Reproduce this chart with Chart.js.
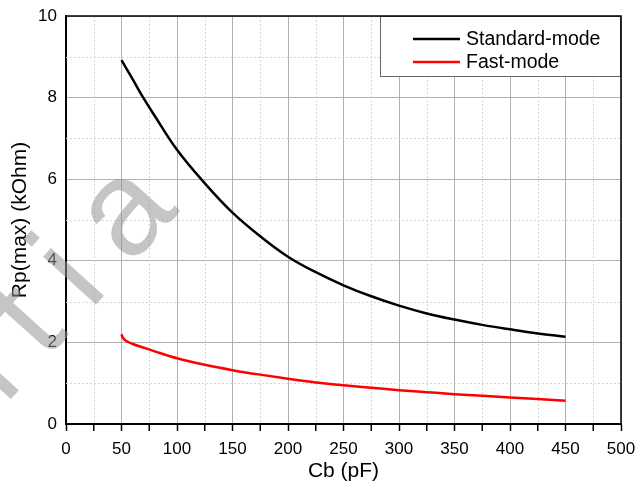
<!DOCTYPE html>
<html>
<head>
<meta charset="utf-8">
<script src="https://cdn.jsdelivr.net/npm/chart.js@4.4.0/dist/chart.umd.min.js"></script>
<style>
    html, body { margin: 0; padding: 0; background: #ffffff; }
</style>
</head>
<body>
<canvas id="myChart" width="638" height="497"></canvas>
<script>
// Standard-mode curve
var cbStandard = [50, 60, 70, 80, 100, 125, 150, 175, 200, 225, 250, 275, 300, 325, 350, 375, 400, 425, 450];
var rpStandard = [8.92, 8.45, 7.98, 7.55, 6.72, 5.90, 5.18, 4.60, 4.10, 3.72, 3.40, 3.13, 2.90, 2.71, 2.56, 2.43, 2.32, 2.22, 2.14];

// Fast-mode curve
var cbFast = [50, 51, 53, 56, 60, 70, 80, 100, 125, 150, 175, 200, 225, 250, 275, 300, 325, 350, 375, 400, 425, 450];
var rpFast = [2.20, 2.13, 2.06, 2.01, 1.96, 1.87, 1.78, 1.61, 1.45, 1.32, 1.21, 1.11, 1.02, 0.95, 0.89, 0.83, 0.78, 0.73, 0.69, 0.65, 0.61, 0.57];

var seriesNames = ["Standard-mode", "Fast-mode"];
var xMinorTicks = [25, 75, 125, 175, 225, 275, 325, 375, 425, 475];
var yMinorTicks = [1, 3, 5, 7, 9];
var watermarkText = "Confidential";

let toPoints = (xs, ys) => xs.map((x, i) => ({ x: x, y: ys[i] }));

let fontName = "'Liberation Sans', Arial, sans-serif";

// dotted minor grid + minor tick marks
let minorGrid = {
    id: "minorGrid",
    beforeDatasetsDraw(chart) {
        var ctx = chart.ctx;
        var area = chart.chartArea;
        var xs = chart.scales.x;
        var ys = chart.scales.y;
        ctx.save();
        ctx.strokeStyle = "#d6d6d6";
        ctx.lineWidth = 1;
        ctx.setLineDash([2, 2]);
        xMinorTicks.forEach((v) => {
            var px = Math.round(xs.getPixelForValue(v)) + 0.5;
            ctx.beginPath();
            ctx.moveTo(px, area.top);
            ctx.lineTo(px, area.bottom);
            ctx.stroke();
        });
        yMinorTicks.forEach((v) => {
            var py = Math.round(ys.getPixelForValue(v)) + 0.5;
            ctx.beginPath();
            ctx.moveTo(area.left, py);
            ctx.lineTo(area.right, py);
            ctx.stroke();
        });
        ctx.setLineDash([]);
        ctx.strokeStyle = "#000";
        ctx.lineWidth = 1.5;
        xMinorTicks.forEach((v) => {
            var px = xs.getPixelForValue(v);
            ctx.beginPath();
            ctx.moveTo(px, area.bottom);
            ctx.lineTo(px, area.bottom + 7);
            ctx.stroke();
        });
        ctx.restore();
    },
};

// top / right frame, legend box and watermark
let frameAndLegend = {
    id: "frameAndLegend",
    afterDraw(chart) {
        var ctx = chart.ctx;
        var area = chart.chartArea;
        ctx.save();

        // legend
        var bx = area.right - 241, by = area.top;
        ctx.fillStyle = "#fff";
        ctx.fillRect(bx, by, 241, 61);
        ctx.strokeStyle = "#666";
        ctx.lineWidth = 1;
        ctx.strokeRect(bx + 0.5, by + 0.5, 240, 60);

        ctx.strokeStyle = "#000";
        ctx.lineWidth = 1.5;
        ctx.beginPath();
        ctx.moveTo(area.left, area.top);
        ctx.lineTo(area.right, area.top);
        ctx.lineTo(area.right, area.bottom);
        ctx.stroke();

        ctx.font = "19.5px " + fontName;
        ctx.textBaseline = "middle";
        ctx.textAlign = "left";
        chart.data.datasets.forEach((ds, i) => {
            var ly = by + 23 + i * 23;
            ctx.strokeStyle = ds.borderColor;
            ctx.lineWidth = 2.5;
            ctx.beginPath();
            ctx.moveTo(bx + 33, ly);
            ctx.lineTo(bx + 80, ly);
            ctx.stroke();
            ctx.fillStyle = "#000";
            ctx.fillText(ds.label, bx + 86, ly + 1);
        });
        ctx.restore();

        // watermark (only its middle part shows in the picture)
        ctx.save();
        ctx.font = "135px " + fontName;
        ctx.letterSpacing = "30px";
        ctx.fillStyle = "rgba(150,150,150,0.55)";
        ctx.textBaseline = "alphabetic";
        var head = ctx.measureText("Confident").width;
        var iw = ctx.measureText("i").width - 30;
        var upToA = ctx.measureText("Confidentia").width;
        ctx.translate(100, 300);
        ctx.rotate(-48 * Math.PI / 180);
        var x0 = -(head + iw / 2);
        ctx.beginPath();
        ctx.rect(x0 - 1000, -200, 1000 + upToA - 28, 400);
        ctx.clip();
        ctx.fillText(watermarkText, x0, 0);
        ctx.restore();
    },
};

let dropPadding = (scale) => {
    scale.paddingLeft = 0;
    scale.paddingRight = 0;
    scale.paddingTop = 0;
    scale.paddingBottom = 0;
};

let drawChart = () => {
    var ctx = document.getElementById("myChart").getContext("2d");
    return new Chart(ctx, {
        type: "line",
        data: {
            datasets: [
                {
                    label: seriesNames[0],
                    data: toPoints(cbStandard, rpStandard),
                    borderColor: "#000000",
                    borderWidth: 2.5,
                    pointRadius: 0,
                    tension: 0.4,
                    fill: false,
                },
                {
                    label: seriesNames[1],
                    data: toPoints(cbFast, rpFast),
                    borderColor: "#ff0000",
                    borderWidth: 2.5,
                    pointRadius: 0,
                    cubicInterpolationMode: "monotone",
                    fill: false,
                },
            ],
        },
        options: {
            responsive: false,
            animation: false,
            devicePixelRatio: 1,
            layout: { padding: { top: 16, right: 17, left: 0, bottom: 0 } },
            plugins: {
                legend: { display: false },
                tooltip: { enabled: false },
            },
            scales: {
                x: {
                    type: "linear",
                    min: 0,
                    max: 500,
                    afterFit: (scale) => { scale.height = 73; dropPadding(scale); },
                    ticks: {
                        stepSize: 50,
                        color: "#000",
                        padding: 8,
                        maxRotation: 0,
                        font: { family: fontName, size: 17 },
                    },
                    grid: {
                        color: "#b0b0b0",
                        lineWidth: 1,
                        tickLength: 7,
                        tickColor: "#000",
                        tickWidth: 1.5,
                    },
                    border: { color: "#000", width: 2 },
                    title: {
                        display: true,
                        text: "Cb (pF)",
                        color: "#000",
                        font: { family: fontName, size: 21 },
                        padding: { top: 0, bottom: 13 },
                    },
                },
                y: {
                    min: 0,
                    max: 10,
                    afterFit: (scale) => { scale.width = 66; dropPadding(scale); },
                    ticks: {
                        stepSize: 2,
                        color: "#000",
                        padding: 9,
                        font: { family: fontName, size: 17 },
                    },
                    grid: {
                        color: "#b0b0b0",
                        lineWidth: 1,
                        drawTicks: false,
                    },
                    border: { color: "#000", width: 2 },
                    title: {
                        display: true,
                        text: "Rp(max) (kOhm)",
                        color: "#000",
                        font: { family: fontName, size: 21 },
                        padding: { top: 8, bottom: 0 },
                    },
                },
            },
        },
        plugins: [minorGrid, frameAndLegend],
    });
};
drawChart();
</script>
</body>
</html>
